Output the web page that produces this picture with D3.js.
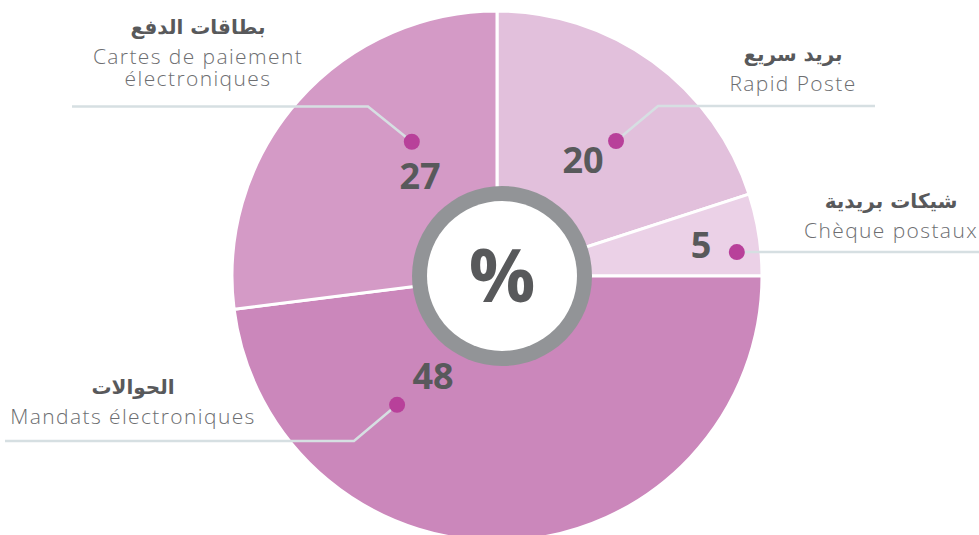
<!DOCTYPE html>
<html>
<head>
<meta charset="utf-8">
<script src="https://cdn.jsdelivr.net/npm/d3@7"></script>
<style>
  html, body { margin: 0; padding: 0; background: #fff; }
  svg { display: block; }
</style>
</head>
<body>
<div id="chart"></div>
<script>
// data
const categories = ["Rapid Poste", "Chèque postaux", "Mandats électroniques", "Cartes de paiement électroniques"];
const values = [20, 5, 48, 27];
const arabicLabels = ["بريد سريع", "شيكات بريدية", "الحوالات", "بطاقات الدفع"];
const frenchLabels = [["Rapid Poste"], ["Chèque postaux"], ["Mandats électroniques"], ["Cartes de paiement", "électroniques"]];

const width = 979, height = 535;
const cx = 497, cy = 276, radius = 265;

const colors = ["#e2c0dc", "#ebd1e7", "#cb87bb", "#d49ac6"];

// annotation layout: dot (polar around centre), number, label block, leader
const layout = [
  { dotA: 41.4, dotR: 180, num: [583, 173], lab: [793, 61], leader: [[875, 106], [658, 106]] },
  { dotA: 84.3, dotR: 241, num: [701, 258], lab: [891, 208], leader: [[979, 252]] },
  { dotA: 217.8, dotR: 163, num: [433, 389], lab: [133, 394], leader: [[5, 441], [354, 441]] },
  { dotA: 327.6, dotR: 159, num: [420, 189], lab: [198, 34], leader: [[72, 106.5], [368, 106.5]] }
];

const svg = d3.select("#chart").append("svg")
  .attr("width", width)
  .attr("height", height);

const pie = d3.pie().sort(null).value(d => d);
const arcs = pie(values);
const arc = d3.arc().innerRadius(0).outerRadius(radius);

const g = svg.append("g").attr("transform", `translate(${cx},${cy})`);

g.selectAll("path.slice")
  .data(arcs)
  .join("path")
  .attr("class", "slice")
  .attr("d", arc)
  .attr("fill", (d, i) => colors[i])
  .attr("stroke", "#fff")
  .attr("stroke-width", 3);

// centre badge
svg.append("circle").attr("cx", 502).attr("cy", 276).attr("r", 90).attr("fill", "#929497");
svg.append("circle").attr("cx", 502).attr("cy", 276).attr("r", 75).attr("fill", "#fff");
svg.append("text")
  .attr("x", 502).attr("y", 302)
  .attr("text-anchor", "middle")
  .style("font-family", "'Open Sans', sans-serif")
  .style("font-weight", 700)
  .style("font-size", "74px")
  .attr("fill", "#58595b")
  .text("%");

// leaders + dots
const dotPos = layout.map(l => {
  const p = d3.pointRadial(l.dotA * Math.PI / 180, l.dotR);
  return [cx + p[0], cy + p[1]];
});

svg.selectAll("path.leader")
  .data(layout)
  .join("path")
  .attr("class", "leader")
  .attr("d", (l, i) => d3.line()(l.leader.concat([dotPos[i]])))
  .attr("fill", "none")
  .attr("stroke", "#d6dfe2")
  .attr("stroke-width", 2.5);

svg.selectAll("circle.dot")
  .data(dotPos)
  .join("circle")
  .attr("class", "dot")
  .attr("cx", d => d[0])
  .attr("cy", d => d[1])
  .attr("r", 8)
  .attr("fill", "#b8409a");

// values
svg.selectAll("text.val")
  .data(values)
  .join("text")
  .attr("class", "val")
  .attr("x", (d, i) => layout[i].num[0])
  .attr("y", (d, i) => layout[i].num[1])
  .attr("text-anchor", "middle")
  .style("font-family", "'Open Sans', sans-serif")
  .style("font-weight", 700)
  .style("font-size", "36px")
  .attr("fill", "#58595b")
  .text(d => d);

// labels
const labels = svg.selectAll("g.label")
  .data(categories)
  .join("g")
  .attr("class", "label")
  .attr("transform", (d, i) => `translate(${layout[i].lab[0]},${layout[i].lab[1]})`);

labels.append("text")
  .attr("text-anchor", "middle")
  .attr("direction", "rtl")
  .style("font-family", "'DejaVu Sans', sans-serif")
  .style("font-weight", 700)
  .style("font-size", "20px")
  .attr("fill", "#58595b")
  .text((d, i) => arabicLabels[i]);

labels.each(function (d, i) {
  const t = d3.select(this).append("text")
    .attr("text-anchor", "middle")
    .style("font-family", "'Open Sans', sans-serif")
    .style("font-weight", 300)
    .style("font-size", "21px")
    .style("letter-spacing", "1.4px")
    .attr("fill", "#6d6e71");
  frenchLabels[i].forEach((line, k) => {
    t.append("tspan").attr("x", 0).attr("y", 30 + k * 22).text(line);
  });
});
</script>
</body>
</html>
